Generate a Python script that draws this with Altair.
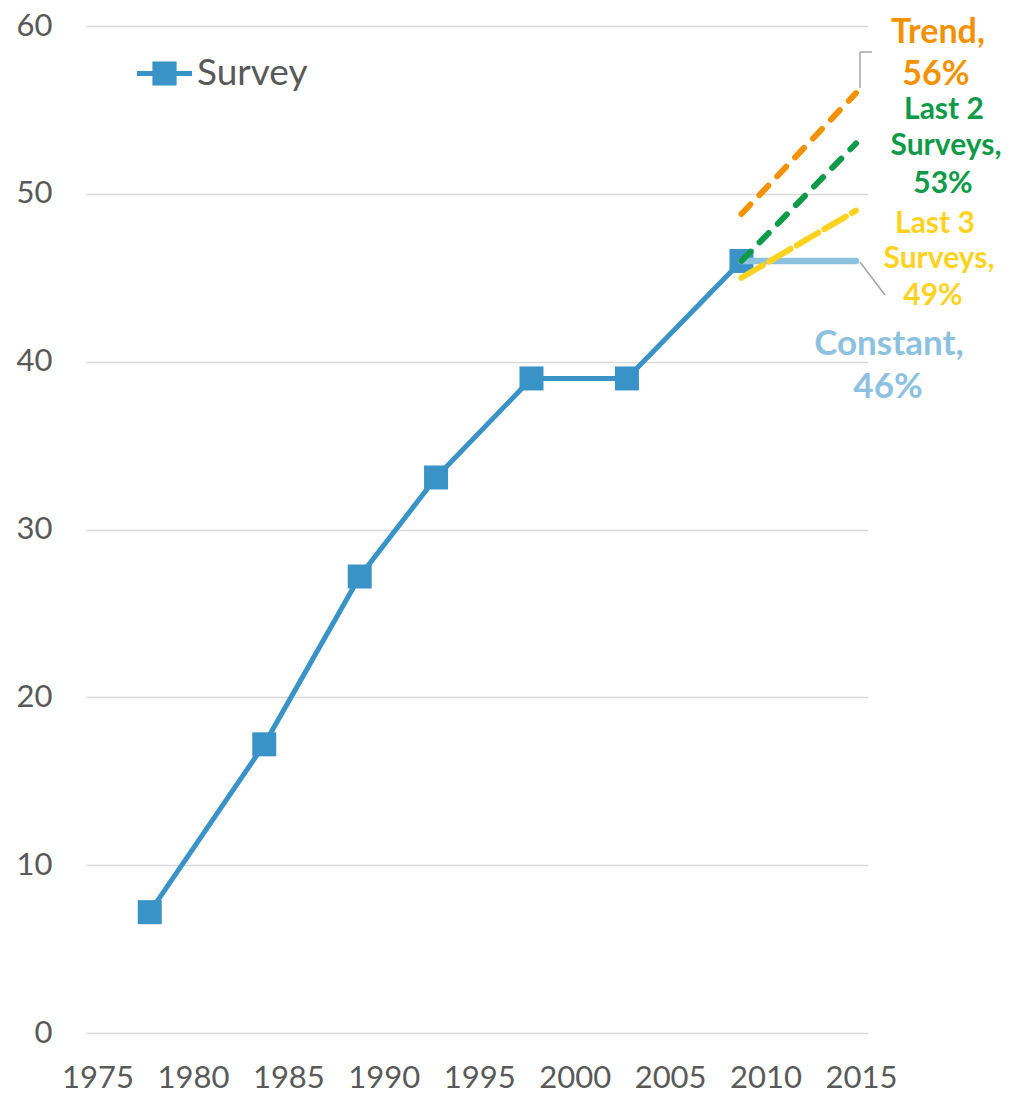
import altair as alt
import pandas as pd

# Survey observations (percent)
survey_years = [1978, 1984, 1989, 1993, 1998, 2003, 2009]
survey_values = [7.2, 17.2, 27.2, 33.1, 39.0, 39.0, 46.0]

# Projections from the last survey out to 2015
proj_names = ["Constant", "Last 3 Surveys", "Last 2 Surveys", "Trend"]
proj_start_year = 2009
proj_end_year = 2015
proj_start_values = [46.0, 45.0, 46.0, 48.8]
proj_end_values = [46.0, 49.0, 53.0, 56.0]

# Label lines beside each projection end
label_lines = {
    "Trend": ["Trend,", "56%"],
    "Last 2 Surveys": ["Last 2", "Surveys,", "53%"],
    "Last 3 Surveys": ["Last 3", "Surveys,", "49%"],
    "Constant": ["Constant,", "46%"],
}

x_ticks = [1975, 1980, 1985, 1990, 1995, 2000, 2005, 2010, 2015]
y_ticks = [0, 10, 20, 30, 40, 50, 60]

BLUE = "#3A93C6"
GREY_TEXT = "#595959"
FONT = "Lato"
styles = {
    "Constant": dict(color="#8CC1E0", dash=None, width=6.5),
    "Last 3 Surveys": dict(color="#FFD21F", dash=[25, 7], width=6),
    "Last 2 Surveys": dict(color="#0E9A48", dash=[13, 13], width=6),
    "Trend": dict(color="#F39200", dash=[13, 13], width=6),
}
# text placement (pixel offsets from the projection end point) and size
label_style = {
    "Trend": dict(size=34, offsets=[(82, -50), (80, -8)]),
    "Last 2 Surveys": dict(size=30, offsets=[(88, -24), (90, 12), (87, 50)]),
    "Last 3 Surveys": dict(size=30, offsets=[(79, 22), (83, 57), (77, 94)]),
    "Constant": dict(size=35, offsets=[(33, 94), (32, 137)]),
}

survey_df = pd.DataFrame({"year": survey_years, "value": survey_values, "series": "Survey"})

rows = []
for n, s, e in zip(proj_names, proj_start_values, proj_end_values):
    rows.append({"name": n, "year": proj_start_year, "value": s})
    rows.append({"name": n, "year": proj_end_year, "value": e})
proj_df = pd.DataFrame(rows)

x_scale = alt.Scale(domain=[1974.66, 2015.63], nice=False, zero=False)
y_scale = alt.Scale(domain=[0, 60], nice=False)

x_enc = alt.X(
    "year:Q",
    scale=x_scale,
    axis=alt.Axis(
        values=x_ticks, format="d", title=None, grid=False, domain=False, ticks=False,
        labelFont=FONT, labelFontSize=31, labelColor=GREY_TEXT, labelPadding=30,
        labelOffset=5, labelOverlap=False, labelFlush=False,
    ),
)
y_enc = alt.Y(
    "value:Q",
    scale=y_scale,
    axis=alt.Axis(
        values=y_ticks, title=None, domain=False, ticks=False,
        gridColor="#D9D9D9", gridWidth=1.5,
        labelFont=FONT, labelFontSize=31, labelColor=GREY_TEXT, labelPadding=34,
    ),
)

layers = []

# survey line
layers.append(
    alt.Chart(survey_df).mark_line(color=BLUE, strokeWidth=5).encode(x=x_enc, y=y_enc)
)
# survey squares, with the legend
legend_path = "M-1,-0.09H1V0.09H-1Z M-0.44,-0.44H0.44V0.44H-0.44Z"
layers.append(
    alt.Chart(survey_df)
    .mark_point(shape="square", filled=True, size=576, opacity=1)
    .encode(
        x="year:Q",
        y="value:Q",
        color=alt.Color(
            "series:N",
            scale=alt.Scale(domain=["Survey"], range=[BLUE]),
            legend=alt.Legend(
                title=None, orient="none", legendX=51, legendY=20,
                symbolType=legend_path, symbolSize=3025, symbolStrokeWidth=0,
                symbolFillColor=BLUE, symbolOpacity=1,
                labelFont=FONT, labelFontSize=37, labelColor=GREY_TEXT,
                labelOffset=5, labelLimit=400, padding=0,
            ),
        ),
    )
)

# projections
for n in proj_names:
    st = styles[n]
    kw = dict(color=st["color"], strokeWidth=st["width"], strokeCap="round")
    if st["dash"]:
        kw["strokeDash"] = st["dash"]
    layers.append(
        alt.Chart(proj_df[proj_df["name"] == n]).mark_line(**kw).encode(x="year:Q", y="value:Q")
    )

# leader lines to the labels
leader_df = pd.DataFrame({
    "x": [2015.21, 2015.21, 2015.21],
    "x2": [2015.21, 2015.84, 2016.52],
    "y": [56.3, 58.45, 45.94],
    "y2": [58.45, 58.45, 43.97],
})
layers.append(
    alt.Chart(leader_df).mark_rule(color="#A5A5A5", strokeWidth=1.5).encode(
        x="x:Q", x2="x2:Q", y="y:Q", y2="y2:Q"
    )
)

# projection labels
for n, e in zip(proj_names, proj_end_values):
    ls = label_style[n]
    for line, (dx, dy) in zip(label_lines[n], ls["offsets"]):
        d = pd.DataFrame({"year": [proj_end_year], "value": [e], "label": [line]})
        layers.append(
            alt.Chart(d).mark_text(
                font=FONT, fontWeight="bold", fontSize=ls["size"], color=styles[n]["color"],
                align="center", baseline="alphabetic", dx=dx, dy=dy,
            ).encode(x="year:Q", y="value:Q", text="label:N")
        )

chart = (
    alt.layer(*layers)
    .properties(
        width=782, height=1007,
        autosize=alt.AutoSizeParams(type="none"),
        padding={"left": 86, "top": 26, "right": 151, "bottom": 62},
        background="white",
    )
    .configure_view(stroke=None)
)

chart.save("out.html", embed_options={"renderer": "svg", "actions": False})
